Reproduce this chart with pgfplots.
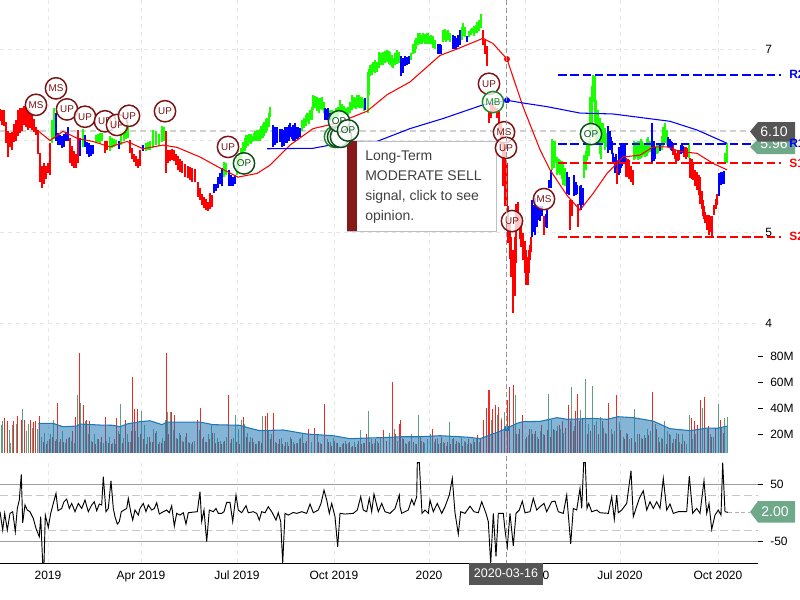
\documentclass[border=0pt]{standalone}
\usepackage{pgfplots}
\usepackage{pgfplotstable}
\usepackage{fontspec}
\setmainfont{Liberation Sans}
\pgfplotsset{compat=1.18}
\definecolor{tagdark}{HTML}{555555}
\definecolor{taggreen}{HTML}{6FA98A}
\definecolor{sigred}{HTML}{7A1414}
\definecolor{siggreen}{HTML}{0D4D1A}
\definecolor{mbgreen}{HTML}{1A8A2A}
\definecolor{volgreen}{HTML}{5F9F7F}
\definecolor{volred}{HTML}{EE2A24}
\definecolor{maline}{HTML}{1F78B4}
\definecolor{gridc}{HTML}{E6E6E6}
\definecolor{tipbar}{HTML}{861A1A}
\definecolor{bargreen}{HTML}{1AFF00}
\tikzset{
  sig/.style={circle,minimum size=16pt,inner sep=0pt,line width=1.1pt,fill=white,fill opacity=0.78,text opacity=1,font=\fontsize{7.4}{8}\selectfont},
  sr/.style={sig,draw=sigred,text=sigred},
  sg/.style={sig,draw=siggreen,text=siggreen},
}

\pgfplotstableread{
x lo hi
0 6.21 6.34
2 6.17 6.33
4 6.16 6.33
6 5.97 6.20
7.5 5.82 6.10
10 5.93 6.08
12 5.90 6.09
14 5.98 6.18
16 6.00 6.22
18 6.05 6.33
20 6.08 6.36
22 6.10 6.35
24 6.17 6.38
26 6.15 6.37
28 6.12 6.36
30 6.14 6.33
32 6.12 6.30
34 6.09 6.23
36 6.06 6.15
38 5.85 6.12
40 5.55 5.86
42 5.48 5.72
44 5.52 5.75
46 5.58 5.72
48 5.65 5.75
50 5.62 5.97
70 5.75 6.03
72 5.72 5.94
74 5.70 5.88
76 5.70 5.85
78 5.75 6.12
105 5.86 6.00
107 5.90 6.00
130 5.86 6.01
132 5.80 5.92
134 5.76 5.85
136 5.72 5.83
138 5.70 5.80
140 5.72 5.90
166 5.64 6.10
168 5.75 5.90
170 5.78 5.90
172 5.79 5.91
174 5.78 5.90
176 5.73 5.85
178 5.68 5.83
180 5.66 5.80
182 5.64 5.78
185 5.60 5.74
188 5.59 5.72
190 5.57 5.71
192 5.55 5.70
195 5.55 5.69
198 5.38 5.55
200 5.35 5.48
202 5.30 5.42
204 5.26 5.38
206 5.24 5.36
208 5.23 5.33
210 5.25 5.43
212 5.27 5.40
483 7.04 7.21
485 6.95 7.10
487 6.81 7.03
489 6.19 6.31
491 6.25 6.40
493 6.30 6.40
495 6.30 6.37
497 6.25 6.35
499 6.13 6.33
501 5.95 6.20
503 5.50 6.08
505 5.28 5.93
507 5.28 5.75
508 4.88 5.28
509.5 4.70 5.10
511 4.51 4.95
513 4.11 4.80
514.5 4.30 4.95
516 4.66 5.31
518 5.02 5.33
519.5 4.92 5.20
521 4.84 5.13
523 4.69 4.99
524.5 4.55 4.90
526 4.42 4.80
528 4.42 4.73
529 4.55 4.80
530 4.69 4.86
531 4.78 4.95
544 4.97 5.17
570 5.02 5.35
572 5.18 5.35
578 5.06 5.31
617 5.52 5.79
626 5.60 5.81
627.5 5.60 5.80
629 5.58 5.79
631 5.55 5.72
633 5.51 5.68
673 5.84 5.95
674.5 5.80 5.90
676 5.77 5.86
677.5 5.78 5.88
679 5.79 5.90
684 5.82 5.93
685.5 5.80 5.93
687.5 5.82 5.92
690 5.59 5.81
691.5 5.58 5.80
693 5.57 5.77
695 5.50 5.68
697 5.46 5.66
698.5 5.40 5.62
700 5.31 5.60
701.5 5.25 5.45
703 5.17 5.35
704 5.14 5.28
705 5.10 5.22
707 5.02 5.19
709 4.97 5.19
710.5 5.00 5.18
712 4.96 5.17
714 5.19 5.30
715.5 5.25 5.36
717 5.30 5.42
}\redbars

\pgfplotstableread{
x lo hi
52 5.97 6.22
54 6.02 6.35
82.5 5.93 6.13
96 5.97 6.06
98 5.98 6.07
100 5.97 6.08
102 6.00 6.08
110 5.88 6.05
112 5.92 6.03
114 5.93 6.02
116 5.95 6.01
121 5.95 6.10
124 6.00 6.10
126 6.02 6.18
128 6.03 6.18
146 5.88 5.97
148 5.90 5.98
150 5.90 6.00
153 5.92 6.12
156 5.95 6.10
159 5.94 6.07
162 5.98 6.16
164 6.00 6.15
224 5.60 5.76
226 5.62 5.75
237 5.62 5.82
239 5.70 5.86
241 5.75 5.92
243 5.85 5.98
244.5 5.88 6.03
246 5.92 6.06
247.5 5.94 6.06
249 5.97 6.07
250.5 5.96 6.07
252 5.98 6.05
253.5 5.99 6.08
255 6.00 6.10
256.5 6.00 6.12
258 6.00 6.12
259.5 6.00 6.13
261 6.02 6.16
262.5 6.03 6.18
264 6.05 6.20
265.5 6.08 6.24
267 6.10 6.25
268.5 6.15 6.30
270 6.26 6.37
302 6.10 6.22
304 6.14 6.25
305.5 6.16 6.28
307 6.20 6.30
309 6.18 6.30
310 6.22 6.33
312 6.22 6.37
313 6.33 6.50
315 6.35 6.49
317 6.32 6.48
319 6.30 6.47
320 6.34 6.46
322 6.33 6.48
324 6.30 6.42
330 6.20 6.33
332 6.22 6.33
334 6.22 6.32
336 6.25 6.35
338 6.27 6.37
340 6.30 6.44
342 6.28 6.40
344 6.28 6.38
346 6.28 6.36
348 6.28 6.37
350 6.30 6.42
352 6.33 6.50
354 6.36 6.48
355.5 6.34 6.47
357 6.37 6.50
358.5 6.36 6.50
360 6.35 6.48
362 6.35 6.48
363.5 6.32 6.45
367.5 6.30 6.75
369 6.50 6.78
370 6.70 6.83
371.5 6.72 6.84
373 6.75 6.86
375 6.74 6.88
377 6.75 6.86
379 6.79 6.97
381 6.82 6.96
383 6.83 6.97
385 6.85 6.98
387 6.86 6.99
388.5 6.84 6.98
390 6.83 6.97
391.5 6.80 6.93
393 6.79 6.90
395 6.82 6.96
397 6.84 6.99
399 6.85 6.97
411 6.88 6.96
413 6.94 7.06
414.5 6.96 7.10
416 7.00 7.12
418 7.04 7.17
420 7.06 7.18
421.5 7.05 7.15
423 7.08 7.17
425 7.05 7.16
426.5 7.06 7.18
428 7.06 7.17
429.5 7.05 7.14
431 7.05 7.15
433 7.01 7.14
435 7.00 7.10
443 7.08 7.21
444.5 7.10 7.22
446 7.08 7.20
448 7.10 7.21
450 7.08 7.18
461.5 7.10 7.24
463 7.14 7.28
465 7.13 7.24
469 7.13 7.20
470.5 7.15 7.22
472 7.17 7.23
474 7.14 7.25
475.5 7.18 7.26
477 7.17 7.30
479 7.20 7.32
481 7.23 7.38
552 5.68 6.02
553.5 5.70 6.00
555 5.75 6.00
557 5.62 5.82
558.5 5.64 5.80
560 5.62 5.79
561.5 5.58 5.78
563 5.51 5.75
565 5.50 5.70
584 5.59 5.84
585.5 5.68 5.88
587 5.79 5.95
588.5 5.83 6.00
590 5.97 6.48
591.5 6.10 6.60
593 6.42 6.72
594.5 6.20 6.70
596 5.97 6.44
598 5.97 6.33
600 5.85 6.25
601 5.80 6.19
603 5.97 6.19
604.5 5.90 6.14
606 5.93 6.08
634 5.79 6.00
635 5.80 5.98
636 5.82 5.98
638 5.79 6.00
640 5.80 6.00
641 5.81 6.02
642 5.82 5.99
643 5.84 5.97
645 5.82 5.97
646.5 5.83 6.02
648 5.86 6.04
650 5.87 6.00
656.5 5.85 5.95
658 5.86 5.97
661.5 5.90 6.05
663 5.93 6.15
665 5.97 6.19
666.5 5.95 6.12
689 5.81 5.97
725 5.75 5.86
727 5.75 5.97
}\greenbars

\pgfplotstableread{
x lo hi
56 6.00 6.30
58 5.95 6.08
60 5.95 6.06
62 5.92 6.05
64 5.93 6.07
66 6.00 6.09
68 6.00 6.15
80 5.83 6.03
85 5.93 6.06
87 5.85 5.98
89 5.82 5.97
91 5.83 5.95
93 5.85 5.95
119 5.91 5.99
143 5.88 5.95
214 5.43 5.52
216 5.45 5.53
218 5.48 5.60
220 5.52 5.65
222 5.50 5.70
229 5.50 5.68
231 5.50 5.62
233 5.50 5.60
235 5.52 5.62
273 5.93 6.17
275 5.95 6.15
277 5.97 6.15
280 5.98 6.13
282 5.93 6.13
283.5 5.94 6.12
285 5.97 6.15
287 5.97 6.15
288.5 6.00 6.17
290 6.04 6.19
291.5 6.02 6.15
293 6.00 6.17
295 6.00 6.19
296.5 6.02 6.15
298 6.02 6.15
300 6.04 6.14
325 6.22 6.35
326.5 6.22 6.34
328 6.22 6.35
329.5 6.22 6.30
365 6.33 6.46
401 6.70 6.92
403 6.74 6.90
405 6.81 6.92
407 6.82 6.91
409 6.84 6.92
438 6.95 7.06
439.5 6.95 7.05
441 6.95 7.04
453 7.00 7.15
454.5 7.00 7.14
456 7.00 7.12
458 7.02 7.15
460 7.04 7.21
467 7.08 7.14
532 4.95 5.35
533.5 5.00 5.30
535 4.97 5.37
536.5 5.05 5.30
538 5.13 5.28
540 5.12 5.28
542 5.17 5.28
545.5 5.05 5.20
547 5.04 5.24
549 5.48 5.57
551 5.48 5.68
567 5.42 5.66
568.5 5.40 5.60
574 5.39 5.62
575.5 5.40 5.55
577 5.42 5.51
579.5 5.30 5.50
581 5.24 5.51
582.5 5.30 5.48
608 5.86 6.16
609.5 5.90 6.10
611 5.93 6.04
612 5.85 6.00
613 5.75 5.86
615 5.64 5.82
616 5.70 5.85
619 5.62 5.93
620 5.65 5.92
621 5.70 5.95
622 5.72 5.97
623 5.75 5.97
624.5 5.77 5.95
652 5.75 6.19
653.5 5.78 6.00
655 5.80 5.93
660 5.88 5.95
668 5.93 6.04
669.5 5.92 6.02
671 5.90 6.00
672 5.88 5.98
680.5 5.85 5.95
682 5.86 5.95
683 5.86 5.94
719 5.39 5.64
721 5.51 5.66
722.5 5.52 5.66
724 5.53 5.67
}\bluebars

\pgfplotstableread{
x y
38.3 28.2
53 28.2
63 25.6
77 26.1
80 27.7
100 26.9
113 26.7
120 25.6
127 27.7
140 29.5
150 30.2
162 27.2
167 29.2
200 29.2
213 27.2
240 26.7
250 24.4
260 22.6
283 23.1
307 20
333 18.7
350 16.4
367 16.9
390 17.4
400 17.9
420 17.9
440 18.7
460 17.9
470 17.4
480 16.4
490 19.2
503 23.1
517 28.2
523 29.5
540 29.7
557 32.6
567 31.3
593 32
607 31.3
618 33.3
633 32.6
653 30
670 24.1
690 22.6
707 24.6
717 24.4
727 26.1
}\volma

\begin{document}
\begin{tikzpicture}
\useasboundingbox (0,0) rectangle (600pt,-450pt);
\pgfplotsset{
  panel/.style={
    scale only axis, width=568.5pt, xmin=0, xmax=758, clip=true,
    axis x line=bottom, axis y line=right,
    x axis line style={-,draw=none}, y axis line style={-,draw=none},
    xtick={48,141,237,334,429,525,620,718},
    xticklabels={}, x tick style={draw=none},
    tick align=outside, major tick length=3.75pt,
    y tick style={black,line width=0.6pt},
    xmajorgrids, grid style={dashed,gridc,line width=0.75pt},
    y tick label style={inner sep=0pt,font=\fontsize{9}{9}\selectfont},
    x tick label style={inner sep=0pt,font=\fontsize{9}{9}\selectfont},
  },
  bars/.style={draw=none,no marks,forget plot,
    error bars/.cd,y dir=plus,y explicit,error mark=none,
    error bar style={draw=#1,line width=1.5pt}},
  lev/.style={line width=1.4pt,dash pattern=on 6.5pt off 2.7pt,forget plot,no marks},
}

% ---------- price panel
\begin{axis}[panel, at={(0pt,0pt)}, anchor=north west, height=255pt, clip=false,
  ymin=3.82, ymax=7.5355, ytick={4,5,6,7}, yticklabels={4,5,6,7},
  y tick style={draw=none}, ymajorgrids,
  y tick label style={xshift=1.5pt}]
\addplot[draw=black!18,line width=1.5pt,dash pattern=on 4.5pt off 3pt,forget plot,no marks] coordinates {(0,6.10)(750,6.10)};
\addplot[bars=red] table[x=x,y=lo,y error plus expr=\thisrow{hi}-\thisrow{lo}] {\redbars};
\addplot[bars=bargreen] table[x=x,y=lo,y error plus expr=\thisrow{hi}-\thisrow{lo}] {\greenbars};
\addplot[bars=blue] table[x=x,y=lo,y error plus expr=\thisrow{hi}-\thisrow{lo}] {\bluebars};
\addplot[red,line width=0.8pt,no marks,forget plot] coordinates {
(37,6.115)(50,6.0)(63,6.10)(78,6.02)(93,5.99)(110,5.93)(127,5.99)(143,5.91)(163,5.95)(177,5.925)(200,5.82)(220,5.70)(238,5.60)(257,5.64)(270,5.73)(290,5.95)(313,6.13)(337,6.19)(367,6.32)(387,6.50)(410,6.64)(440,6.93)(457,7.0)(483,7.117)(493,7.06)(507,6.89)(523,6.37)(540,5.90)(550,5.68)(567,5.40)(580,5.24)(593,5.42)(607,5.64)(623,5.82)(640,5.84)(653,5.93)(667,5.93)(680,5.88)(697,5.86)(713,5.75)(727,5.68)};
\addplot[blue,line width=0.8pt,no marks,forget plot] coordinates {
(267,5.91)(313,5.915)(350,5.99)(377,5.99)(410,6.13)(443,6.24)(483,6.39)(507,6.44)(523,6.41)(547,6.37)(580,6.30)(613,6.29)(670,6.21)(697,6.115)(727,5.97)};
\addplot[red,only marks,mark=*,mark size=2pt,forget plot] coordinates {(507,6.89)};
\addplot[blue,only marks,mark=*,mark size=2pt,forget plot] coordinates {(507,6.44)};
\addplot[blue,lev] coordinates {(558,6.72)(781,6.72)};
\addplot[blue,lev] coordinates {(558,5.96)(781,5.96)};
\addplot[red,lev] coordinates {(558,5.75)(781,5.75)};
\addplot[red,lev] coordinates {(558,4.95)(781,4.95)};
% tooltip
\fill[white,fill opacity=0.92] (axis cs:347,5.995) rectangle (axis cs:496,5.01);
\draw[black!25,line width=0.7pt] (axis cs:347,5.995) rectangle (axis cs:496,5.01);
\fill[tipbar] (axis cs:347,5.995) rectangle (axis cs:357,5.01);
\node[anchor=north west,inner sep=0pt,align=left,text=black!75,font=\fontsize{10.5}{15}\selectfont] at (axis cs:365,5.885) {Long-Term\\MODERATE SELL\\signal, click to see\\opinion.};
% signals
\node[sr] at (axis cs:36,6.39) {MS};
\node[sr] at (axis cs:56,6.57) {MS};
\node[sr] at (axis cs:67,6.34) {UP};
\node[sr] at (axis cs:85,6.26) {UP};
\node[sr] at (axis cs:105,6.21) {UP};
\node[sr] at (axis cs:117,6.17) {UP};
\node[sr] at (axis cs:129,6.27) {UP};
\node[sr] at (axis cs:165,6.32) {UP};
\node[sr] at (axis cs:228,5.93) {UP};
\node[sg] at (axis cs:244,5.75) {OP};
\node[sig,draw=mbgreen,text=mbgreen] at (axis cs:335,6.04) {MB};
\node[sg] at (axis cs:338,6.04) {};
\node[sg] at (axis cs:341,6.04) {};
\node[sg] at (axis cs:339,6.21) {OP};
\node[sg] at (axis cs:348,6.11) {OP};
\node[sr] at (axis cs:489,6.62) {UP};
\node[sig,draw=mbgreen,text=mbgreen] at (axis cs:493,6.42) {MB};
\node[sr] at (axis cs:504,6.09) {MS};
\node[sr] at (axis cs:506,5.92) {UP};
\node[sr] at (axis cs:512,5.12) {UP};
\node[sr] at (axis cs:544,5.36) {MS};
\node[sg] at (axis cs:591,6.07) {OP};
\end{axis}

% ---------- volume panel
\begin{axis}[panel, at={(0pt,-255pt)}, anchor=north west, height=84.75pt,
  ymin=5.4, ymax=92.3, ytick={20,40,60,80}, yticklabels={20M,40M,60M,80M},
  y tick label style={xshift=5.25pt}]
\addplot[ycomb,volgreen,line width=0.7pt,no marks,forget plot] table {
1 27
2.5 30
9 23
10 13
12.5 27
16 28
22 39
26 22
28 28
32.5 25
37 24
41 18
44 21
47 15
50 20
53 31
56 16
59 14
62 22
65 13
68 17
71 15
74 13
77 50
80 43.6
85 30
88 20
91 15
94 20
97 16
100 14
103 13
106 15
109 18
112 13
115 12
118 22
120 43
123 17
127 20
130 14
135 22
138 18
141 38
144 27
147 18
150 14
153 24
156 22
159 14
162 17
165 31
167 37
170 37
173 23
176 17
179 21
182 15
185 18
188 14
191 12
194 15
199 23
202 16
205 14
208 20
211 28
214 21
217 17
220 15
223 14
226 18
230 13
233 17
235 35
238 24
241 31
244 28
247 21
250 18
253 14
256 12
259 15
262 34
268 22
271 20
275 14
278 12
281 17
284 11
287 14
290 18
293 14
296 13
299 16
302 20
305 13
311 14
317 19
320 13
327 16
330 14
333 17
336 13
339 10
342 12
345 15
348 13
351 10
354 14
357 12
360 23
363 13
368 37.7
371 16
374 13
377 15
380 18
386 14
389 21
394 24
397 15
402 17
405 13
408 14
411 20
415 12
418 35
421 15
424 13
427 16
430 20
434 14
437 17
440 13
443 14
446 11
449 29
452 16
455 12
458 14
461 18
464 15
467 12
470 13
473 16
476 17
479 14
491 31
497 35
501 32
504 37
515 50
518 20
525 16
528 19
531 24
534 20
537 18
540 22
543 20
548 51
551 31
554 23
557 26
560 24
563 21
571 56.4
574 26
580 38.5
585 62
588 28
592 57
596 30
600 33
603 25
606 20
611 24
614 22
619 29
623 18
626 21
629 16
634 39
637 20
641 17
644 19
647 24
650 22
655 28
658 18
661 17
664 30
667 22
670 19
673 16
676 21
679 14
682 20
686 12
689 34.6
692 16
695 20
702 39.7
707 24
710 20
713 18
718 42.8
721 25
724 32
727 32.8
};
\addplot[ycomb,volred,line width=0.7pt,no marks,forget plot] table {
4 32
7 30
13.5 30
17 34
21 31
24.5 31
30.5 31
33 29
35 30
39.5 34
43 14
46 12
49 16
52 18
55 15
57 43.6
60 16
63 14
66 16
69 18
72 22
75 33
79 82
83 42
86 31
89 30
92 14
95 12
98 16
101 18
105 33
108 13
111 12
114 16
116 32
119 20
122 13
125 31
128 14
131 22
132 63.6
134 39
137 39
140 20
143 16
146 12
149 18
152 14
155 21
158 12
161 13
164 15
166 82
168 20
171 37
174 35
177 16
180 19
183 14
186 21
189 13
192 14
197 31
200 39.7
203 18
206 14
209 16
212 21
215 13
218 14
221 12
224 15
228 50
231 16
236 14
239 12
243 33
246 18
249 14
252 17
255 12
258 15
261 13
265 34
267 36
270 16
273 36
276 13
279 16
282 12
285 14
288 11
291 16
294 12
297 13
300 17
303 13
306 15
308 23.6
314 24.4
318 14
321 12
324 43
328 14
331 11
334 15
337 13
340 10
343 13
346 12
349 14
352 11
355 10
358 15
361 12
364 13
366 20
369 14
372 12
375 16
378 13
383 23
386 15
392 60
395 20
399 27.4
400 30.8
403 16
406 12
409 15
413 14
416 12
420 18
423 14
432 24
435 16
438 12
441 18
444 13
447 14
450 12
453 17
456 15
459 13
462 11
465 14
468 16
471 12
474 14
477 19
480 16
483 30.8
486 39.7
488 54
489.5 54
492 39
495 42
498 41
501 31
504 22
507 46
509 56
513 57.7
516 20
519 24
522 34.6
526 18
529 24
532 20
535 22
538 16
541 27
544 19
547 23
550 18
553 24
556 22
559 27
562 30
565 25
568 42
570 30
573 22
575 38
577 51
579 30
582 32
587 20
590 22
594 27
598 20
602 30
605 21
608 43.6
612 20
616 50
620 23
624 16
627 20
631 17
635 14
639 20
642 16
645 17
648 19
652 52
656 24
659 14
662 16
666 12
669 20
672 13
675 16
678 20
681 12
684 15
691 32
694 30
697 27
700 46
704 48.7
708 26
711 18
715 24
720 31
723 21
};
\addplot[draw=none,fill=maline,fill opacity=0.55,no marks,forget plot] table[x=x,y=y] {\volma} \closedcycle;
\addplot[maline,line width=0.8pt,no marks,forget plot] table[x=x,y=y] {\volma};
\addplot[maline,only marks,mark=*,mark size=2pt,forget plot] coordinates {(507,24.3)};
\end{axis}

% ---------- oscillator panel
\begin{axis}[panel, at={(0pt,-345pt)}, anchor=north west, height=77.25pt,
  axis x line=bottom, x axis line style={-,draw=black,line width=0.6pt},
  ymin=-87.4, ymax=92.7, ytick={-50,50}, yticklabels={-50,50},
  xticklabels={2019,Apr 2019,Jul 2019,Oct 2019,2020,Apr 2020,Jul 2020,Oct 2020},
  x tick label style={yshift=-4pt},
  y tick label style={xshift=5.25pt}]
\addplot[draw=black!38,line width=1pt,no marks,forget plot] coordinates {(0,50)(758,50)};
\addplot[draw=black!38,line width=1pt,no marks,forget plot] coordinates {(0,-50)(758,-50)};
\addplot[draw=black!22,line width=0.8pt,dash pattern=on 6pt off 3pt,no marks,forget plot] coordinates {(0,30)(758,30)};
\addplot[draw=black!22,line width=0.8pt,dash pattern=on 6pt off 3pt,no marks,forget plot] coordinates {(0,-30)(758,-30)};
\addplot[black,line width=0.7pt,no marks,forget plot] table {
0 2.3
2.7 -29.8
4.7 -0.6
7.3 -29.8
10 -0.6
12.7 2.3
15.3 -32.7
17.3 8
19.3 22.7
21.3 67.5
22.7 -17
25 14
27.3 5.2
30 2.3
33.3 -9.4
36 -27
39.3 -41.4
40.7 -6.5
42.7 -88
44 -88
45.3 -3.6
48.3 -25
50.7 -0.6
53.3 16.8
56 34.3
58 4
61.7 8
64 19.7
66.7 24.4
69.3 8
71.7 16.8
75 2.3
78.3 16.8
81.7 8
85 22.7
88.3 2.3
91.7 14
94.3 19.7
96.7 4
99.3 15.7
101.7 14
103.3 63.5
106 2.3
108.3 8
111 56.5
113.3 8
115 -6.5
117.3 -19.3
119.3 -15
121.3 2.3
124 5.2
126.7 8
128.3 25.6
130.7 2.3
132.7 -12.3
135 5.2
138.3 -3.6
140 8
143.3 16.8
146 2.3
148.3 14
151.7 5.2
154.3 8
156.7 18
159.3 -1.8
163.3 2.3
166.7 5.2
169.3 0.5
171.7 12.8
174.3 -22.8
176.7 -0.6
180 -3.6
183.3 0.5
186 -19.3
188.3 0.5
193.3 1.6
197.3 2.3
200 37.2
201.7 -15
204 5.2
206.7 -50
209.3 5.2
213.3 2.3
216 8
218.3 -0.6
221.7 -0.6
224 2.3
226.7 18.6
230 18.6
232.7 -15
236 31.4
238.3 5.2
241.7 0.5
246 12.8
248.3 0.5
253.3 2.3
256.7 -0.6
259.3 -12.3
261.7 2.3
265 0.5
268.3 11
271.7 2.3
276 -12.3
278.3 0.5
280.7 -15
282.7 -88
285 -0.6
288.3 -3.6
293.3 1
296.7 -0.6
301.7 2.3
306.7 -0.6
310 15.7
313.3 0.5
318.3 5.2
321 16.8
324 40
326.7 22.7
329.3 -0.6
331.7 16.8
335 -6.5
337.7 -59
340 -0.6
345 -1.8
353.3 -0.6
357.3 5.2
360.7 28.5
363.3 5.2
366.7 2.3
369.3 25.6
371.7 2.3
374 33
378.3 2.3
381.7 16.8
385 2.3
390 -0.6
395 8
399.3 31.4
400 11
401.7 -0.6
405 2.3
408.3 5.2
411.7 23.8
414 14
416.7 28.5
417.3 88
419.3 88
422 -0.6
425 5.2
428.3 -0.6
430 22.7
433.3 2.3
437.3 16.8
441.7 -0.6
445 11
449.3 31.4
452.3 60.5
455 0.5
458.3 -36.8
460.7 2.3
465 -0.6
470 11.9
474 2.3
478.3 0.5
481.7 19.7
486 -0.6
488.3 -15
490.7 -88
493.3 -0.6
496 -76
498.3 -0.6
503.3 -0.6
505 -29.8
507.3 -59
510 -0.6
513.3 -57.8
516 -0.6
519.3 5.2
522.3 20.9
525 0.5
530 2.3
533.3 25.6
536.7 5.2
540 11
544 16.8
546.7 2.3
551.7 19.7
555 20.9
558.3 2.3
563.3 -0.6
566.7 31.4
570.7 -54
573.3 8
576.7 5.2
580 43
581.7 8
583.7 88
585.3 88
587 8
588.7 16.8
591.7 2.3
596.7 5.2
600 0.5
608.3 -0.6
611.7 28.5
614.3 -11
616.7 31.4
618.3 0.5
621.7 5.2
626.7 16.8
631 74
633.3 -6.5
636 8
639.3 25.6
643.3 39
646.7 5.2
650 19.7
653.3 8
656.7 19.7
660 8
663.3 60.5
666.7 5.2
670 15.7
673.3 -0.6
678.3 2.3
686.7 2.3
689.3 65
692.7 -0.6
696.7 8
700 -0.6
704 56.5
706.7 -0.6
709 16.8
711.7 -28.6
715 -3.6
718.3 5.2
721 -3.6
722.7 88
725 2.3
728.3 1
};
\end{axis}

% ---------- overlays in page pixels
\begin{scope}[x=0.75pt,y=-0.75pt]
\draw[black!40,line width=0.7pt,dash pattern=on 3.5pt off 2.5pt] (506,0)--(506,563);
\draw[black!30,line width=0.6pt,dash pattern=on 3pt off 2pt] (728,512)--(750,512);
% date tag
\fill[tagdark] (469,563) rectangle (543,584.5);
\node[text=white,inner sep=0pt,font=\fontsize{9.4}{10}\selectfont] at (506,573.5) {2020-03-16};
% value tags
\fill[taggreen] (750,147)--(757,140)--(795,140)--(795,154)--(757,154)--cycle;
\node[text=white,inner sep=0pt,font=\fontsize{10.5}{11}\selectfont] at (774,144) {5.96};
\fill[tagdark] (750,131.5)--(758,122)--(795,122)--(795,141.5)--(758,141.5)--cycle;
\node[text=white,inner sep=0pt,font=\fontsize{10.5}{11}\selectfont] at (774,131.5) {6.10};
\fill[taggreen] (750,512)--(758,501)--(795,501)--(795,522.5)--(758,522.5)--cycle;
\node[text=white,inner sep=0pt,font=\fontsize{10.5}{11}\selectfont] at (775,512) {2.00};
% level names
\node[anchor=west,inner sep=0pt,text=blue,font=\bfseries\fontsize{9}{9}\selectfont] at (789,74.5) {R2};
\node[anchor=west,inner sep=0pt,text=blue,font=\bfseries\fontsize{9}{9}\selectfont] at (789,143.5) {R1};
\node[anchor=west,inner sep=0pt,text=red,font=\bfseries\fontsize{9}{9}\selectfont] at (789,163.5) {S1};
\node[anchor=west,inner sep=0pt,text=red,font=\bfseries\fontsize{9}{9}\selectfont] at (789,236.5) {S2};
\end{scope}
\end{tikzpicture}
\end{document}
